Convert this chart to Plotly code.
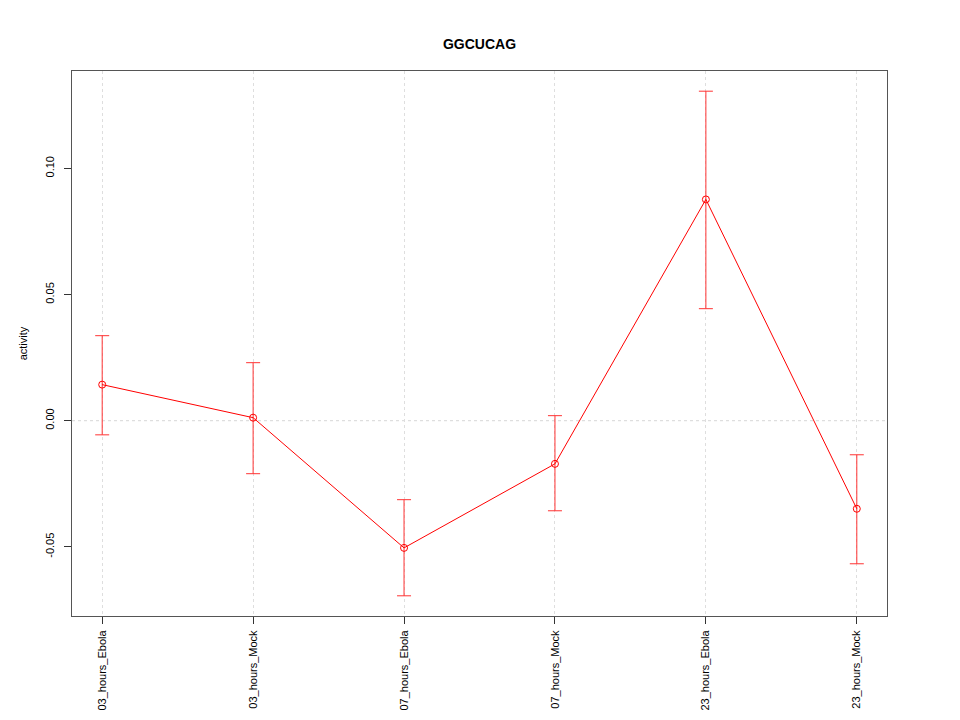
import plotly.graph_objects as go

# values
labels = ['03_hours_Ebola', '03_hours_Mock', '07_hours_Ebola',
          '07_hours_Mock', '23_hours_Ebola', '23_hours_Mock']
activity = [0.0143, 0.0012, -0.0504, -0.0171, 0.0877, -0.0349]
upper = [0.0337, 0.0230, -0.0313, 0.0020, 0.1306, -0.0135]
lower = [-0.0056, -0.0210, -0.0694, -0.0357, 0.0444, -0.0567]
y_ticks = [-0.05, 0.0, 0.05, 0.10]
y_tick_text = ['-0.05', '0.00', '0.05', '0.10']

xs = list(range(1, len(labels) + 1))
err_plus = [u - a for u, a in zip(upper, activity)]
err_minus = [a - l for a, l in zip(activity, lower)]

fig = go.Figure()

fig.add_trace(go.Scatter(
    x=xs,
    y=activity,
    mode='lines+markers',
    line=dict(color='#ff0000', width=1),
    marker=dict(symbol='circle-open', size=7, color='#ff0000', line=dict(width=1)),
    error_y=dict(type='data', symmetric=False, array=err_plus, arrayminus=err_minus,
                 color='#ff3333', thickness=1, width=7),
    showlegend=False
))

# R-style dotted grid line at zero
fig.add_hline(y=0, line=dict(color='#d6d6d6', width=1, dash='dot'), layer='below')

# the page body adds an 8px offset, so margins are shifted to compensate
fig.update_layout(
    width=960,
    height=720,
    title=dict(text='<b>GGCUCAG</b>', xref='paper', x=0.5, xanchor='center',
               y=0.95, yanchor='middle', font=dict(size=14, color='black')),
    paper_bgcolor='white',
    plot_bgcolor='white',
    font=dict(family='Liberation Sans, Arial, sans-serif', color='black', size=11),
    margin=dict(l=64, r=81, t=63, b=112),
    xaxis=dict(
        range=[0.8, 6.2],
        tickvals=xs,
        ticktext=labels,
        tickangle=-90,
        ticks='outside',
        ticklen=7,
        tickcolor='#333333',
        ticklabelstandoff=2,
        showgrid=True,
        gridcolor='#dedede',
        griddash='dot',
        gridwidth=1,
        zeroline=False,
        showline=True,
        linecolor='#555555',
        linewidth=1,
        mirror=True,
        automargin=False
    ),
    yaxis=dict(
        range=[-0.0774, 0.1386],
        tickvals=y_ticks,
        ticktext=y_tick_text,
        tickangle=-90,
        ticks='outside',
        ticklen=7,
        tickcolor='#333333',
        ticklabelstandoff=6,
        showgrid=False,
        zeroline=False,
        showline=True,
        linecolor='#555555',
        linewidth=1,
        mirror=True,
        automargin=False,
        title=dict(text='activity', standoff=13, font=dict(size=11))
    )
)

fig.write_html("out.html")
